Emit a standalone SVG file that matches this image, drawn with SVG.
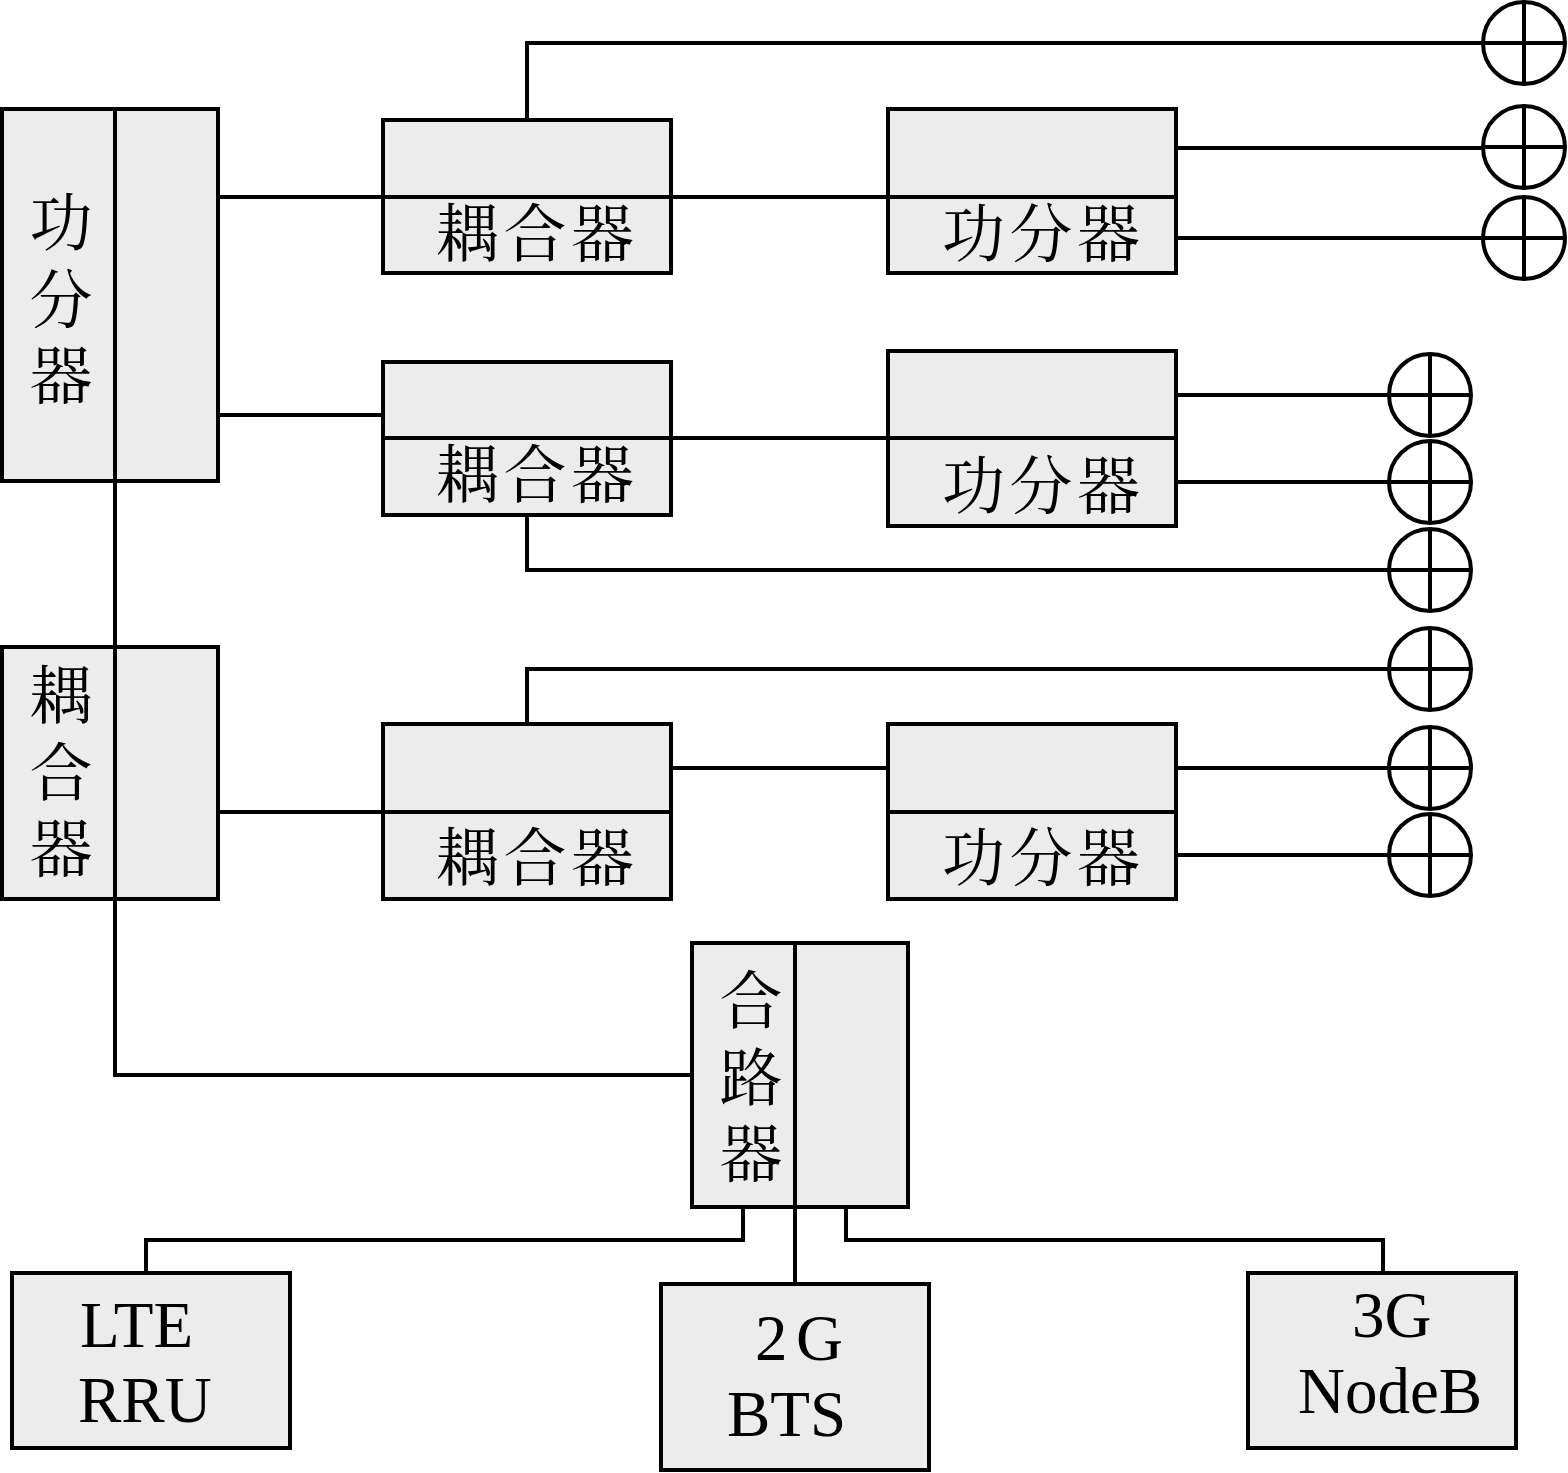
<svg xmlns="http://www.w3.org/2000/svg" width="1568" height="1473" viewBox="0 0 1568 1473">
<style>
.b{fill:#ececec;stroke:#000;stroke-width:4}
.l{fill:none;stroke:#000;stroke-width:4}
.a{fill:none;stroke:#000;stroke-width:4}
text{fill:#000}
.c{font-size:63px;font-family:"Noto Serif CJK SC","Noto Sans CJK SC",serif}
.v{writing-mode:vertical-rl;letter-spacing:13.5px}
.e{font-size:65px;font-family:"Liberation Serif",serif}
</style>
<defs>
<g id="ant"><circle class="a" r="41"/><path class="a" d="M-41 0H41M0-41V41"/></g>
</defs>
<rect width="1568" height="1473" fill="#fff"/>
<!-- equipment boxes -->
<g id="splitter-main"><rect class="b" x="2" y="109" width="216" height="372"/><text class="c v" x="61" y="190">功分器</text></g>
<g id="coupler-main"><rect class="b" x="2" y="647" width="216" height="252"/><text class="c v" x="61" y="663">耦合器</text></g>
<g id="coupler-1"><rect class="b" x="383" y="120" width="288" height="153"/><text class="c" x="436" y="256" textLength="198">耦合器</text></g>
<g id="coupler-2"><rect class="b" x="383" y="362" width="288" height="153"/><text class="c" x="436" y="497" textLength="198">耦合器</text></g>
<g id="coupler-3"><rect class="b" x="383" y="724" width="288" height="175"/><text class="c" x="436" y="880" textLength="198">耦合器</text></g>
<g id="splitter-1"><rect class="b" x="888" y="109" width="288" height="164"/><text class="c" x="942" y="256" textLength="198">功分器</text></g>
<g id="splitter-2"><rect class="b" x="888" y="351" width="288" height="175"/><text class="c" x="942" y="508" textLength="198">功分器</text></g>
<g id="splitter-3"><rect class="b" x="888" y="724" width="288" height="175"/><text class="c" x="942" y="880" textLength="198">功分器</text></g>
<g id="combiner"><rect class="b" x="692" y="943" width="216" height="264"/><text class="c v" x="751" y="968">合路器</text></g>
<g id="lte-rru"><rect class="b" x="12" y="1273" width="278" height="175"/><text class="e" x="80" y="1347">LTE</text><text class="e" x="78" y="1422">RRU</text></g>
<g id="bts-2g"><rect class="b" x="661" y="1284" width="268" height="186"/><text class="e" x="755" y="1360" textLength="88">2G</text><text class="e" x="727" y="1436">BTS</text></g>
<g id="nodeb-3g"><rect class="b" x="1248" y="1273" width="268" height="175"/><text class="e" x="1352" y="1337">3G</text><text class="e" x="1298" y="1413">NodeB</text></g>
<!-- feeder lines -->
<g id="connectors">
<path class="l" d="M527 120V43H1482"/>
<path class="l" d="M218 197H1176"/>
<path class="l" d="M1176 148H1482M1176 238H1482"/>
<path class="l" d="M218 415H383M383 438H1176"/>
<path class="l" d="M1176 395H1389M1176 482H1389"/>
<path class="l" d="M527 515V570H1389"/>
<path class="l" d="M527 724V669H1389"/>
<path class="l" d="M218 812H671M671 768H888M888 812H1176"/>
<path class="l" d="M1176 768H1389M1176 855H1389"/>
<path class="l" d="M115 109V1075H692"/>
<path class="l" d="M795 943V1284"/>
<path class="l" d="M743 1207V1240H146V1273"/>
<path class="l" d="M846 1207V1240H1383V1273"/>
</g>
<!-- antennas -->
<g id="antenna-1"><use href="#ant" x="1524" y="43"/></g>
<g id="antenna-2"><use href="#ant" x="1524" y="147"/></g>
<g id="antenna-3"><use href="#ant" x="1524" y="238"/></g>
<g id="antenna-4"><use href="#ant" x="1430" y="395"/></g>
<g id="antenna-5"><use href="#ant" x="1430" y="482"/></g>
<g id="antenna-6"><use href="#ant" x="1430" y="570"/></g>
<g id="antenna-7"><use href="#ant" x="1430" y="669"/></g>
<g id="antenna-8"><use href="#ant" x="1430" y="768"/></g>
<g id="antenna-9"><use href="#ant" x="1430" y="855"/></g>
</svg>
